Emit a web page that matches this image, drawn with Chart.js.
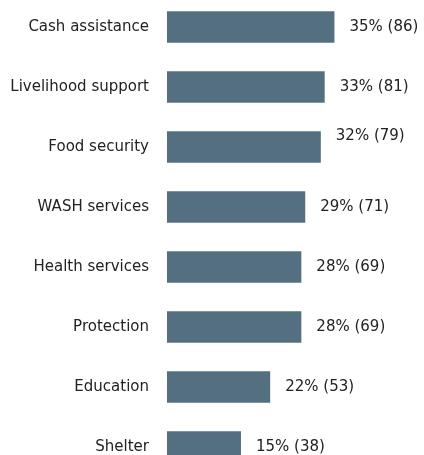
<!DOCTYPE html>
<html>
<head>
<meta charset="utf-8">
<script src="https://cdn.jsdelivr.net/npm/chart.js@4"></script>
<style>
  html, body { margin: 0; padding: 0; background: #fff; overflow: hidden; }
  #chart { position: absolute; left: 0; top: -3px; }
</style>
</head>
<body>
<canvas id="chart" width="424" height="480"></canvas>
<script>
const categories = ['Cash assistance', 'Livelihood support', 'Food security', 'WASH services',
                    'Health services', 'Protection', 'Education', 'Shelter'];
const counts = [86, 81, 79, 71, 69, 69, 53, 38];
const percents = [35, 33, 32, 29, 28, 28, 22, 15];

const barColor = '#546f80';
const textColor = '#222';
const fontFamily = '"DejaVu Sans", sans-serif';

// the "Food security" value label sits a bit higher in the original
const labelLift = { 2: 11 };

const valueLabels = {
    id: 'valueLabels',
    afterDatasetsDraw(chart) {
        const ctx = chart.ctx;
        const meta = chart.getDatasetMeta(0);
        ctx.save();
        ctx.font = '15px ' + fontFamily;
        ctx.fillStyle = textColor;
        ctx.textAlign = 'left';
        ctx.textBaseline = 'middle';
        meta.data.forEach((bar, i) => {
            const txt = percents[i] + '% (' + counts[i] + ')';
            ctx.fillText(txt, bar.x + 15, bar.y - (labelLift[i] || 0));
        });
        ctx.restore();
    }
};

new Chart(document.getElementById('chart'), {
    type: 'bar',
    data: {
        labels: categories,
        datasets: [{
            data: counts,
            backgroundColor: barColor,
            barPercentage: 0.525,
            categoryPercentage: 1
        }]
    },
    options: {
        indexAxis: 'y',
        responsive: false,
        animation: false,
        layout: { padding: 0 },
        plugins: {
            legend: { display: false },
            tooltip: { enabled: false }
        },
        scales: {
            x: {
                display: false,
                min: 0,
                max: 132
            },
            y: {
                grid: { display: false, drawTicks: false },
                border: { display: false },
                ticks: {
                    color: textColor,
                    padding: 18,
                    font: { family: fontFamily, size: 15 }
                },
                afterFit(scale) {
                    scale.width = 167;
                    scale.paddingTop = 0;
                    scale.paddingBottom = 0;
                }
            }
        }
    },
    plugins: [valueLabels]
});
</script>
</body>
</html>
